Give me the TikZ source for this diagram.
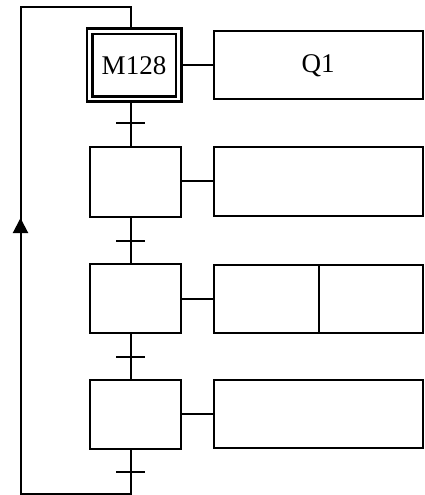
\documentclass[tikz,border=0pt]{standalone}
\usepackage{fontspec}
\setmainfont{Liberation Serif}
\usetikzlibrary{arrows.meta}

\begin{document}
\begin{tikzpicture}[x=1bp,y=-1bp,line width=2bp,
  font=\fontsize{27bp}{32bp}\selectfont,
  etape/.style={draw,minimum width=91bp,minimum height=69bp,inner sep=0pt,outer sep=0pt},
  action/.style={draw,minimum width=209bp,minimum height=68bp,inner sep=0pt,outer sep=0pt},
  demi/.style={draw,minimum height=68bp,inner sep=0pt,outer sep=0pt}]
\useasboundingbox (0,0) rectangle (424,495);
% etapes
\node[etape,double,line width=2.8bp,double distance=2.4bp,outer sep=4bp,
  minimum width=89bp,minimum height=67.5bp] (s1) at (134,65.25) {M128};
\node[etape] (s2) at (135,182) {};
\node[etape] (s3) at (135,298) {};
\node[etape] (s4) at (135,414) {};
% actions
\node[action] (a1) at (318,65.5) {Q1};
\node[action] (a2) at (318,181.5) {};
\node[demi,minimum width=105bp] (a3g) at (266,298.5) {};
\node[demi,minimum width=104bp,anchor=west] (a3d) at (a3g.east) {};
\node[action] (a4) at (318,413.5) {};
\draw (a1.west -| s1.east) -- (a1.west);
\draw (a2.west -| s2.east) -- (a2.west);
\draw (a3g.west -| s3.east) -- (a3g.west);
\draw (a4.west -| s4.east) -- (a4.west);
% liaisons
\coordinate (col) at (130.5,0);
\draw (s1.south -| col) -- (s2.north -| col);
\draw (s2.south -| col) -- (s3.north -| col);
\draw (s3.south -| col) -- (s4.north -| col);
% transitions
\coordinate (t1) at (130.5,123.5);
\coordinate (t2) at (130.5,240.5);
\coordinate (t3) at (130.5,356.5);
\coordinate (t4) at (130.5,471.5);
\foreach \t in {t1,t2,t3,t4}
  \draw ([xshift=-14.5bp]\t) -- ([xshift=14.5bp]\t);
% retour
\coordinate (bd) at (130.5,493.5);
\coordinate (bg) at (20.5,493.5);
\coordinate (fl) at (20.5,218);
\coordinate (hg) at (20.5,7.5);
\coordinate (hd) at (130.5,7.5);
\draw (s4.south -| col) -- (bd) -- (bg) -- (fl) -- (hg) -- (hd) -- (s1.north -| col);
\draw[-{Triangle[length=15bp,width=15bp]}] (bg) -- (fl);
\end{tikzpicture}
\end{document}
